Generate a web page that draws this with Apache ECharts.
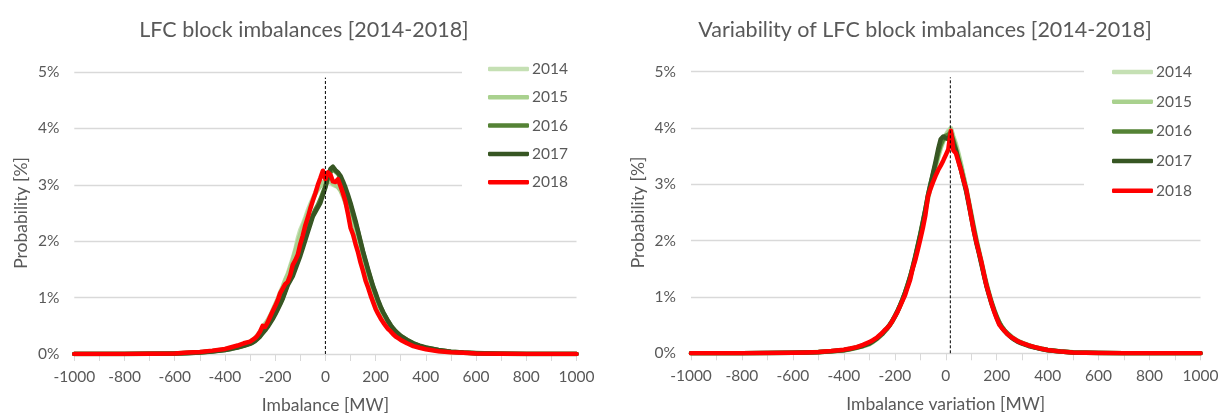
<!DOCTYPE html>
<html>
<head>
<meta charset="utf-8">
<script src="https://cdn.jsdelivr.net/npm/echarts@6/dist/echarts.min.js"></script>
<style>
html,body{margin:0;padding:0;background:#fff;}
#chart{width:1221px;height:414px;}
</style>
</head>
<body>
<div id="chart"></div>
<script>
// ---- data ----
var years = ['2014', '2015', '2016', '2017', '2018'];
var xsMW = [-1000,-900,-800,-700,-600,-550,-500,-450,-400,-375,-350,-325,
  -300,-290,-280,-270,-260,-250,-240,-230,-220,-210,
  -200,-190,-180,-170,-160,-150,-140,-130,-120,-110,
  -100,-90,-80,-70,-60,-50,-40,-30,-20,-10,
  0,10,20,30,40,50,60,70,80,90,
  100,110,120,130,140,150,160,170,180,190,
  200,210,220,230,240,250,260,270,280,290,
  300,325,350,375,400,450,500,550,600,700,800,900,1000];

// Left chart: LFC block imbalances, probability [%]
var imb2014 = [0,0,0,0.004,0.01,0.02,0.03,0.055,0.085,0.11,0.14,0.18,
  0.22,0.25,0.29,0.34,0.40,0.47,0.54,0.60,0.68,0.78,
  0.88,0.98,1.10,1.20,1.32,1.42,1.56,1.70,1.85,2.05,
  2.20,2.30,2.42,2.55,2.66,2.76,2.86,2.95,3.00,3.05,
  3.02,3.08,3.05,3.00,2.98,3.00,2.92,2.84,2.72,2.60,
  2.45,2.30,2.15,1.98,1.80,1.62,1.46,1.32,1.18,1.05,
  0.93,0.82,0.73,0.65,0.58,0.51,0.45,0.40,0.36,0.32,
  0.29,0.22,0.17,0.13,0.10,0.06,0.035,0.02,0.012,0.004,0,0,0];
var imb2015 = [0,0,0,0.004,0.009,0.02,0.032,0.05,0.08,0.10,0.13,0.17,
  0.21,0.24,0.27,0.32,0.38,0.45,0.52,0.59,0.67,0.76,
  0.86,0.96,1.06,1.18,1.30,1.40,1.52,1.66,1.82,1.98,
  2.12,2.26,2.38,2.50,2.62,2.74,2.84,2.92,2.98,3.04,
  3.06,3.04,3.08,3.02,3.00,2.96,2.90,2.80,2.68,2.55,
  2.40,2.26,2.10,1.94,1.76,1.60,1.44,1.30,1.16,1.03,
  0.91,0.81,0.72,0.64,0.57,0.50,0.44,0.39,0.35,0.31,
  0.28,0.21,0.16,0.12,0.095,0.055,0.032,0.02,0.01,0.004,0,0,0];
var imb2016 = [0,0,0,0.003,0.008,0.016,0.027,0.047,0.072,0.095,0.12,0.15,
  0.19,0.21,0.24,0.28,0.33,0.38,0.44,0.50,0.57,0.64,
  0.72,0.81,0.90,1.00,1.12,1.24,1.36,1.45,1.56,1.68,
  1.78,1.92,2.06,2.20,2.34,2.46,2.56,2.64,2.74,2.86,
  2.98,3.12,3.22,3.28,3.24,3.20,3.12,3.02,2.90,2.78,
  2.64,2.48,2.32,2.16,1.98,1.80,1.64,1.48,1.33,1.19,
  1.06,0.94,0.83,0.74,0.66,0.58,0.51,0.45,0.40,0.36,
  0.32,0.25,0.19,0.145,0.11,0.07,0.042,0.026,0.016,0.005,0,0,0];
var imb2017 = [0,0,0,0.003,0.008,0.015,0.025,0.045,0.07,0.09,0.115,0.145,
  0.18,0.20,0.23,0.27,0.31,0.37,0.42,0.48,0.55,0.62,
  0.70,0.79,0.88,0.98,1.10,1.22,1.30,1.38,1.50,1.62,
  1.74,1.88,2.02,2.16,2.30,2.44,2.52,2.60,2.68,2.82,
  2.95,3.15,3.28,3.32,3.26,3.22,3.16,3.06,2.95,2.82,
  2.68,2.52,2.36,2.18,2.00,1.82,1.66,1.50,1.35,1.20,
  1.08,0.95,0.84,0.74,0.66,0.58,0.51,0.45,0.40,0.36,
  0.32,0.25,0.19,0.15,0.115,0.07,0.042,0.025,0.015,0.005,0,0,0];
var imb2018 = [0,0,0,0.005,0.01,0.025,0.035,0.06,0.09,0.12,0.15,0.19,
  0.22,0.25,0.28,0.33,0.40,0.50,0.48,0.56,0.66,0.76,
  0.85,0.95,1.08,1.16,1.24,1.28,1.40,1.58,1.66,1.76,
  1.95,2.10,2.28,2.42,2.58,2.72,2.85,3.00,3.12,3.25,
  3.10,3.22,3.18,3.06,3.05,3.10,2.98,2.85,2.70,2.48,
  2.24,2.12,1.95,1.80,1.62,1.47,1.30,1.18,1.04,0.92,
  0.80,0.71,0.63,0.56,0.50,0.44,0.40,0.35,0.31,0.28,
  0.25,0.19,0.14,0.11,0.085,0.05,0.03,0.02,0.01,0.004,0,0,0];

// Right chart: variability of LFC block imbalances, probability [%]
var var2014 = [0,0,0.002,0.003,0.008,0.012,0.02,0.032,0.05,0.07,0.095,0.125,
  0.16,0.19,0.22,0.25,0.29,0.33,0.38,0.43,0.49,0.56,
  0.64,0.73,0.83,0.94,1.06,1.19,1.34,1.50,1.68,1.88,
  2.08,2.30,2.52,2.75,2.96,3.15,3.34,3.52,3.68,3.80,
  3.88,3.95,4.00,3.85,3.72,3.55,3.36,3.15,2.95,2.72,
  2.50,2.26,2.04,1.84,1.64,1.44,1.25,1.08,0.92,0.78,
  0.66,0.56,0.48,0.42,0.37,0.33,0.29,0.26,0.23,0.21,
  0.19,0.145,0.11,0.085,0.065,0.035,0.018,0.01,0.006,0.002,0,0,0];
var var2015 = [0,0,0.002,0.004,0.009,0.013,0.021,0.034,0.052,0.072,0.098,0.13,
  0.165,0.19,0.22,0.26,0.30,0.34,0.39,0.44,0.50,0.57,
  0.65,0.74,0.84,0.95,1.07,1.20,1.35,1.51,1.69,1.89,
  2.09,2.30,2.52,2.74,2.94,3.12,3.30,3.48,3.64,3.76,
  3.86,3.92,3.98,3.82,3.68,3.52,3.34,3.14,2.93,2.70,
  2.47,2.24,2.02,1.82,1.62,1.42,1.23,1.06,0.91,0.77,
  0.65,0.55,0.47,0.41,0.36,0.32,0.28,0.25,0.22,0.20,
  0.18,0.14,0.105,0.08,0.06,0.033,0.017,0.01,0.005,0.002,0,0,0];
var var2016 = [0,0,0.002,0.004,0.009,0.014,0.022,0.037,0.06,0.08,0.105,0.14,
  0.18,0.21,0.24,0.27,0.31,0.35,0.40,0.45,0.51,0.58,
  0.66,0.75,0.85,0.96,1.08,1.22,1.36,1.53,1.72,1.92,
  2.12,2.34,2.56,2.80,3.00,3.18,3.36,3.55,3.70,3.80,
  3.86,3.88,3.92,3.78,3.62,3.45,3.28,3.10,2.90,2.68,
  2.45,2.22,2.00,1.80,1.60,1.40,1.21,1.05,0.90,0.77,
  0.65,0.55,0.47,0.41,0.36,0.32,0.28,0.25,0.22,0.20,
  0.18,0.14,0.105,0.08,0.06,0.032,0.016,0.009,0.005,0.002,0,0,0];
var var2017 = [0,0,0.002,0.004,0.008,0.013,0.02,0.035,0.055,0.075,0.10,0.13,
  0.17,0.20,0.23,0.26,0.30,0.34,0.39,0.44,0.50,0.57,
  0.65,0.74,0.84,0.95,1.07,1.20,1.35,1.52,1.70,1.90,
  2.10,2.32,2.55,2.80,3.00,3.20,3.40,3.62,3.80,3.85,
  3.82,3.80,3.90,3.72,3.60,3.42,3.25,3.06,2.88,2.65,
  2.42,2.18,1.96,1.78,1.58,1.38,1.19,1.03,0.88,0.75,
  0.63,0.53,0.46,0.40,0.35,0.31,0.27,0.24,0.21,0.19,
  0.17,0.13,0.10,0.075,0.055,0.03,0.015,0.008,0.005,0.002,0,0,0];
var var2018 = [0,0,0.002,0.004,0.01,0.016,0.025,0.04,0.065,0.085,0.11,0.15,
  0.20,0.22,0.25,0.28,0.32,0.36,0.41,0.45,0.50,0.57,
  0.65,0.73,0.83,0.93,1.03,1.17,1.30,1.50,1.65,1.83,
  2.02,2.22,2.45,2.78,2.92,3.04,3.15,3.25,3.33,3.42,
  3.52,3.62,3.95,3.60,3.55,3.40,3.25,3.07,2.92,2.68,
  2.42,2.18,1.98,1.80,1.62,1.40,1.20,1.04,0.88,0.74,
  0.62,0.51,0.45,0.40,0.35,0.31,0.28,0.25,0.22,0.20,
  0.18,0.14,0.11,0.08,0.06,0.03,0.015,0.01,0.006,0.003,0.001,0,0];

var meanImbalance = 0;     // dashed reference line, left chart [MW]
var meanVariation = 18;    // dashed reference line, right chart [MW]
var refLineTop = 4.9;      // top of dashed line [%]

var titles = ['LFC block imbalances [2014-2018]', 'Variability of LFC block imbalances [2014-2018]'];
var xNames = ['Imbalance [MW]', 'Imbalance variation [MW]'];
var yName = 'Probability [%]';

// ---- styling ----
var colors = ['#c5e0b4', '#a9d18e', '#548235', '#375623', '#ff0000'];
var FONT = 'Lato';
var TXT = '#595959';
var GRID_C = '#d9d9d9';

function pairs(ys) { return xsMW.map(function (x, i) { return [x, ys[i]]; }); }

var leftSets = [imb2014, imb2015, imb2016, imb2017, imb2018];
var rightSets = [var2014, var2015, var2016, var2017, var2018];

var series = [];
[leftSets, rightSets].forEach(function (sets, gi) {
  sets.forEach(function (ys, k) {
    series.push({
      name: years[k], type: 'line', xAxisIndex: gi, yAxisIndex: gi,
      data: pairs(ys), symbol: 'none', showSymbol: false,
      lineStyle: { color: colors[k], width: 4.5, cap: 'round', join: 'round' },
      itemStyle: { color: colors[k] },
      z: 3 + k, silent: true
    });
  });
  var m = gi === 0 ? meanImbalance : meanVariation;
  series.push({
    name: 'ref' + gi, type: 'line', xAxisIndex: gi, yAxisIndex: gi,
    data: [[m, 0], [m, refLineTop]], symbol: 'none', silent: true, z: 10,
    lineStyle: { color: '#000', width: 1, type: [3, 2] }
  });
});

function xAxis(gi) {
  return {
    gridIndex: gi, type: 'value', min: -1000, max: 1000, interval: 100,
    name: xNames[gi], nameLocation: 'middle', nameGap: 42,
    nameTextStyle: { color: TXT, fontFamily: FONT, fontSize: 17.5 },
    axisLine: { lineStyle: { color: GRID_C, width: 1 } },
    axisTick: { show: true, length: 7, lineStyle: { color: GRID_C, width: 1 } },
    splitLine: { show: false },
    axisLabel: {
      color: TXT, fontFamily: FONT, fontSize: 15.5, margin: 15,
      formatter: function (v) { return (Math.round(v) % 200 === 0) ? String(v) : ''; }
    }
  };
}
function yAxis(gi) {
  return {
    gridIndex: gi, type: 'value', min: 0, max: 5, interval: 1,
    name: yName, nameLocation: 'middle', nameGap: 44, nameRotate: 90,
    nameTextStyle: { color: TXT, fontFamily: FONT, fontSize: 17.5 },
    axisLine: { show: false }, axisTick: { show: false },
    splitLine: { lineStyle: { color: GRID_C, width: 1.3 } },
    axisLabel: { color: TXT, fontFamily: FONT, fontSize: 15.5, margin: 15,
      formatter: function (v) { return v + '%'; } }
  };
}
function legend(gi) {
  var isL = gi === 0;
  return {
    data: years, orient: 'vertical', icon: 'roundRect',
    left: isL ? 462 : 1084, top: isL ? 52 : 55,
    itemWidth: 41, itemHeight: 4.5, itemGap: isL ? 10.3 : 11.7,
    padding: [8, 10, 8, isL ? 26 : 28],
    backgroundColor: '#ffffff',
    textStyle: { color: TXT, fontFamily: FONT, fontSize: 15.5, lineHeight: 18, padding: [0, 0, 0, -2] },
    selectedMode: false
  };
}

var chart = echarts.init(document.getElementById('chart'), null, { renderer: 'canvas' });
chart.setOption({
  animation: false,
  backgroundColor: '#ffffff',
  title: [
    { text: titles[0], left: 299, top: 14, textAlign: 'center',
      textStyle: { color: TXT, fontFamily: FONT, fontSize: 21.5, fontWeight: 'normal' } },
    { text: titles[1], left: 920, top: 14, textAlign: 'center',
      textStyle: { color: TXT, fontFamily: FONT, fontSize: 21.5, fontWeight: 'normal' } }
  ],
  legend: [legend(0), legend(1)],
  grid: [
    { left: 74.3, right: 644.5, top: 72, bottom: 60, containLabel: false, outerBoundsMode: 'none' },
    { left: 691, right: 20.5, top: 71.7, bottom: 60.7, containLabel: false, outerBoundsMode: 'none' }
  ],
  xAxis: [xAxis(0), xAxis(1)],
  yAxis: [yAxis(0), yAxis(1)],
  series: series
});
</script>
</body>
</html>
